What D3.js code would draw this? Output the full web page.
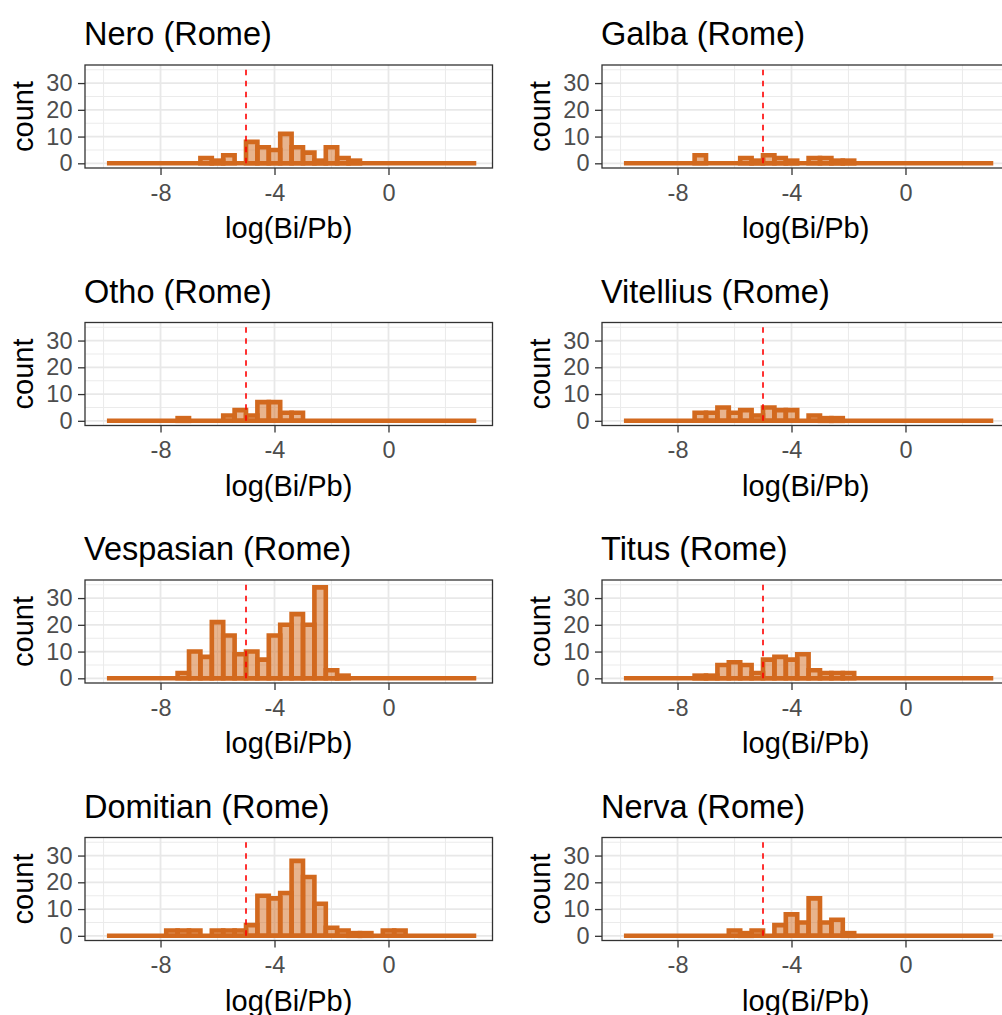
<!DOCTYPE html>
<html>
<head>
<meta charset="utf-8">
<script src="https://cdn.jsdelivr.net/npm/d3@7"></script>
<style>
body { margin: 0; background: #fff; }
svg { display: block; font-family: "Liberation Sans", Arial, sans-serif; }
</style>
</head>
<body>
<script>
(function() {
    "use strict";

    //emperors in reading order, left to right then top to bottom
    var emperors = ["Nero", "Galba", "Otho", "Vitellius", "Vespasian", "Titus", "Domitian", "Nerva"];
    var mint = "Rome";

    //histogram bin edges on the log(Bi/Pb) axis (binwidth 0.4)
    var binEdges = [-9.8, -9.4, -9.0, -8.6, -8.2, -7.8, -7.4, -7.0, -6.6, -6.2, -5.8, -5.4,
        -5.0, -4.6, -4.2, -3.8, -3.4, -3.0, -2.6, -2.2, -1.8, -1.4, -1.0, -0.6,
        -0.2, 0.2, 0.6, 1.0, 1.4, 1.8, 2.2, 2.6, 3.0];

    //coin counts per bin, one list per emperor
    var nero      = [0,0,0,0,0,0,0,0,2,1,3,0,8,6,5,11,6,4,1,6,2,1,0,0,0,0,0,0,0,0,0,0];
    var galba     = [0,0,0,0,0,0,3,0,0,0,2,1,3,2,1,0,2,2,1,1,0,0,0,0,0,0,0,0,0,0,0,0];
    var otho      = [0,0,0,0,0,0,1,0,0,0,2,4,2,7,7,3,3,0,0,0,0,0,0,0,0,0,0,0,0,0,0,0];
    var vitellius = [0,0,0,0,0,0,3,3,5,3,4,2,5,4,4,0,2,1,1,0,0,0,0,0,0,0,0,0,0,0,0,0];
    var vespasian = [0,0,0,0,0,0,2,10,8,21,16,9,10,7,16,20,24,20,34,3,1,0,0,0,0,0,0,0,0,0,0,0];
    var titus     = [0,0,0,0,0,0,1,1,5,6,5,2,7,8,7,9,3,2,2,2,0,0,0,0,0,0,0,0,0,0,0,0];
    var domitian  = [0,0,0,0,0,2,2,2,0,2,2,2,4,15,14,16,28,22,12,3,2,1,1,0,2,2,0,0,0,0,0,0];
    var nerva     = [0,0,0,0,0,0,0,0,0,2,1,2,0,4,8,5,14,5,6,1,0,0,0,0,0,0,0,0,0,0,0,0];
    var counts = [nero, galba, otho, vitellius, vespasian, titus, domitian, nerva];

    //reference threshold drawn as a dashed line
    var threshold = -5;
    var thresholdTop = 35;

    //axis limits and ticks
    var xLimits = [-10, 3];
    var yLimits = [0, 35];
    var xTicks = [-8, -4, 0];
    var xMinor = [-10, -6, -2, 2];
    var yTicks = [0, 10, 20, 30];
    var yMinor = [5, 15, 25, 35];

    //layout of the 2 x 4 grid of panels
    var WIDTH = 1002, HEIGHT = 1015;
    var PANEL_LEFT = 85, PANEL_TOP = 65;
    var COL_STEP = 517, ROW_STEP = 257.5;
    var PANEL_W = 407.5, PANEL_H = 103;
    var ORANGE = "#D2691E";
    var BAR_LINE = 4.6;

    var svg = d3.select("body").append("svg")
        .attr("width", WIDTH)
        .attr("height", HEIGHT);
    svg.append("rect").attr("width", WIDTH).attr("height", HEIGHT).attr("fill", "#fff");

    //ggplot style 5% expansion of the limits
    function expand(lim) {
        var pad = (lim[1] - lim[0]) * 0.05;
        return [lim[0] - pad, lim[1] + pad];
    }

    var x = d3.scaleLinear().domain(expand(xLimits)).range([0, PANEL_W]);
    var y = d3.scaleLinear().domain(expand(yLimits)).range([PANEL_H, 0]);

    emperors.forEach(function(name, i) {
        var col = i % 2, row = Math.floor(i / 2);
        var left = PANEL_LEFT + col * COL_STEP;
        var top = PANEL_TOP + row * ROW_STEP;
        var g = svg.append("g").attr("transform", "translate(" + left + "," + top + ")");

        //pair every count with its bin
        var bins = counts[i].map(function(n, j) {
            return { x0: binEdges[j], x1: binEdges[j + 1], n: n };
        });

        //panel background and grid
        g.append("rect").attr("width", PANEL_W).attr("height", PANEL_H).attr("fill", "#fff");
        g.selectAll(".xminor").data(xMinor).enter().append("line")
            .attr("x1", x).attr("x2", x).attr("y1", 0).attr("y2", PANEL_H)
            .attr("stroke", "#EBEBEB").attr("stroke-width", 1.1);
        g.selectAll(".yminor").data(yMinor).enter().append("line")
            .attr("y1", y).attr("y2", y).attr("x1", 0).attr("x2", PANEL_W)
            .attr("stroke", "#EBEBEB").attr("stroke-width", 1.1);
        g.selectAll(".xmajor").data(xTicks).enter().append("line")
            .attr("x1", x).attr("x2", x).attr("y1", 0).attr("y2", PANEL_H)
            .attr("stroke", "#E8E8E8").attr("stroke-width", 1.8);
        g.selectAll(".ymajor").data(yTicks).enter().append("line")
            .attr("y1", y).attr("y2", y).attr("x1", 0).attr("x2", PANEL_W)
            .attr("stroke", "#E8E8E8").attr("stroke-width", 1.8);

        //empty bins show up as one flat outline along the baseline
        g.append("line")
            .attr("x1", x(bins[0].x0))
            .attr("x2", x(bins[bins.length - 1].x1))
            .attr("y1", y(0)).attr("y2", y(0))
            .attr("stroke", ORANGE)
            .attr("stroke-width", BAR_LINE)
            .attr("stroke-linecap", "square");

        //filled bars
        g.selectAll(".bar").data(bins.filter(function(b) { return b.n > 0; }))
            .enter().append("path")
            .attr("d", function(b) {
                var x0 = x(b.x0), x1 = x(b.x1);
                return "M" + x0 + "," + y(0) + "V" + y(b.n) + "H" + x1 + "V" + y(0) + "Z";
            })
            .attr("fill", ORANGE)
            .attr("fill-opacity", 0.5)
            .attr("stroke", ORANGE)
            .attr("stroke-width", BAR_LINE)
            .attr("stroke-linejoin", "miter");

        //dashed threshold line
        g.append("line")
            .attr("x1", x(threshold)).attr("x2", x(threshold))
            .attr("y1", y(0)).attr("y2", y(thresholdTop))
            .attr("stroke", "#FF0000")
            .attr("stroke-width", 1.6)
            .attr("stroke-dasharray", "5.5,5.5");

        //panel border
        g.append("rect").attr("width", PANEL_W).attr("height", PANEL_H)
            .attr("fill", "none").attr("stroke", "#333333").attr("stroke-width", 1.3);

        //axes
        var xAxis = g.append("g").attr("transform", "translate(0," + PANEL_H + ")")
            .call(d3.axisBottom(x).tickValues(xTicks).tickSize(7).tickPadding(9)
                .tickFormat(function(d) { return String(d); }));
        var yAxis = g.append("g")
            .call(d3.axisLeft(y).tickValues(yTicks).tickSize(7).tickPadding(5.5)
                .tickFormat(function(d) { return String(d); }));
        [xAxis, yAxis].forEach(function(a) {
            a.attr("font-family", null).attr("font-size", 23.5);
            a.select(".domain").remove();
            a.selectAll(".tick line").attr("stroke", "#333333").attr("stroke-width", 1.3);
            a.selectAll(".tick text").attr("fill", "#4D4D4D");
        });

        //titles
        g.append("text")
            .attr("x", -1).attr("y", -20)
            .attr("font-size", 32.5)
            .attr("fill", "#000")
            .text(name + " (" + mint + ")");
        g.append("text")
            .attr("x", PANEL_W / 2).attr("y", PANEL_H + 70)
            .attr("text-anchor", "middle")
            .attr("font-size", 29)
            .attr("fill", "#000")
            .text("log(Bi/Pb)");
        g.append("text")
            .attr("transform", "translate(-52," + (PANEL_H / 2) + ") rotate(-90)")
            .attr("text-anchor", "middle")
            .attr("font-size", 29)
            .attr("fill", "#000")
            .text("count");
    });
}());
</script>
</body>
</html>
